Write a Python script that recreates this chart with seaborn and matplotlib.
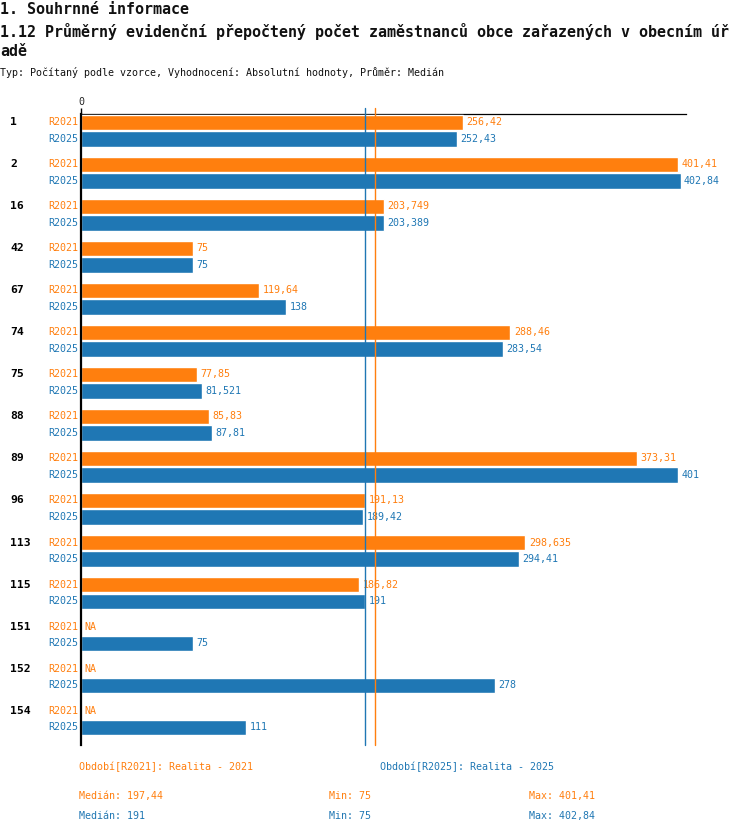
import numpy as np
import pandas as pd
import matplotlib.pyplot as plt
import seaborn as sns

# Data
groups = ['1', '2', '16', '42', '67', '74', '75', '88', '89', '96', '113', '115', '151', '152', '154']
r2021 = [256.42, 401.41, 203.749, 75, 119.64, 288.46, 77.85, 85.83, 373.31, 191.13, 298.635, 186.82,
         np.nan, np.nan, np.nan]
r2025 = [252.43, 402.84, 203.389, 75, 138, 283.54, 81.521, 87.81, 401, 189.42, 294.41, 191, 75, 278, 111]
periods = ['R2021', 'R2025']
period_names = ['Realita - 2021', 'Realita - 2025']
medians = [197.44, 191]
mins = [75, 75]
maxs = [401.41, 402.84]

colors = {'R2021': '#ff7f0e', 'R2025': '#1f77b4'}

df = pd.DataFrame({
    'skupina': groups * 2,
    'obdobi': ['R2021'] * len(groups) + ['R2025'] * len(groups),
    'hodnota': r2021 + r2025,
})


def cz(v):
    return f"{v:g}".replace('.', ',')


sns.set_style('white')
plt.rcParams['font.family'] = ['DejaVu Sans Mono', 'DejaVu Sans']

W, H = 750, 834
fig = plt.figure(figsize=(W / 100, H / 100), dpi=100)
ax = fig.add_axes([81 / W, 1 - 745 / H, 605 / W, 631 / H])

sns.barplot(data=df, y='skupina', x='hodnota', hue='obdobi', order=groups, hue_order=periods,
            palette=colors, orient='h', width=0.8, gap=0.07, saturation=1, legend=False,
            ax=ax, zorder=3)

ax.set_xlim(0, 406.5)
ax.set_ylim(len(groups) - 0.38, -0.4)
ax.set_xlabel('')
ax.set_ylabel('')

# spines: only top and left
for s in ['right', 'bottom']:
    ax.spines[s].set_visible(False)
ax.spines['left'].set_linewidth(1.6)
ax.spines['left'].set_color('black')
ax.spines['left'].set_zorder(5)
ax.spines['top'].set_linewidth(0.9)
ax.spines['top'].set_color('black')
ax.spines['top'].set_zorder(1)

ax.xaxis.tick_top()
ax.set_xticks([0])
ax.set_xticklabels(['0'])
ax.tick_params(axis='x', length=4, width=1, color='black', pad=1, labelsize=7.2)
ax.set_yticks([])

# median lines
for p, m in zip(periods, medians):
    ax.axvline(m, ymin=0, ymax=1 + 6 / 631, color=colors[p], lw=1, zorder=4, clip_on=False)

# labels
ytr = ax.get_yaxis_transform()
for i, g in enumerate(groups):
    ax.annotate(g, xy=(0, i - 0.2), xycoords=ytr, xytext=(-71 * 0.72, 0), textcoords='offset points',
                ha='left', va='center', fontsize=8.2, fontweight='bold', color='black',
                annotation_clip=False)
    for j, (p, vals) in enumerate(zip(periods, [r2021, r2025])):
        y = i - 0.2 + 0.4 * j
        ax.annotate(p, xy=(0, y), xycoords=ytr, xytext=(-3 * 0.72, 0), textcoords='offset points',
                    ha='right', va='center', fontsize=7.2, color=colors[p], annotation_clip=False)
        v = vals[i]
        if np.isnan(v):
            ax.annotate('NA', xy=(0, y), xytext=(2.5, 0), textcoords='offset points',
                        ha='left', va='center', fontsize=7.2, color=colors[p])
        else:
            ax.annotate(cz(v), xy=(v, y), xytext=(2.5, 0), textcoords='offset points',
                        ha='left', va='center', fontsize=7.2, color=colors[p])


def ftext(x, y, s, **kw):
    fig.text(x / W, 1 - y / H, s, va='center', ha='left', **kw)


# titles
ftext(0, 9, '1. Souhrnné informace', fontsize=10.8, fontweight='bold', color='#111111')
ftext(0, 31, '1.12 Průměrný evidenční přepočtený počet zaměstnanců obce zařazených v obecním úř',
      fontsize=10.8, fontweight='bold', color='#111111')
ftext(0, 52, 'adě', fontsize=10.8, fontweight='bold', color='#111111')
ftext(0, 73, 'Typ: Počítaný podle vzorce, Vyhodnocení: Absolutní hodnoty, Průměr: Medián',
      fontsize=7.2, color='#111111')

# bottom legend and statistics
leg_x = [79, 380]
for j, p in enumerate(periods):
    ftext(leg_x[j], 767, f'Období[{p}]: {period_names[j]}', fontsize=7.2, color=colors[p])
    yrow = 796 + 20 * j
    ftext(79, yrow, f'Medián: {cz(medians[j])}', fontsize=7.2, color=colors[p])
    ftext(329, yrow, f'Min: {cz(mins[j])}', fontsize=7.2, color=colors[p])
    ftext(529, yrow, f'Max: {cz(maxs[j])}', fontsize=7.2, color=colors[p])

fig.savefig('out.png', dpi=100, facecolor='white')
